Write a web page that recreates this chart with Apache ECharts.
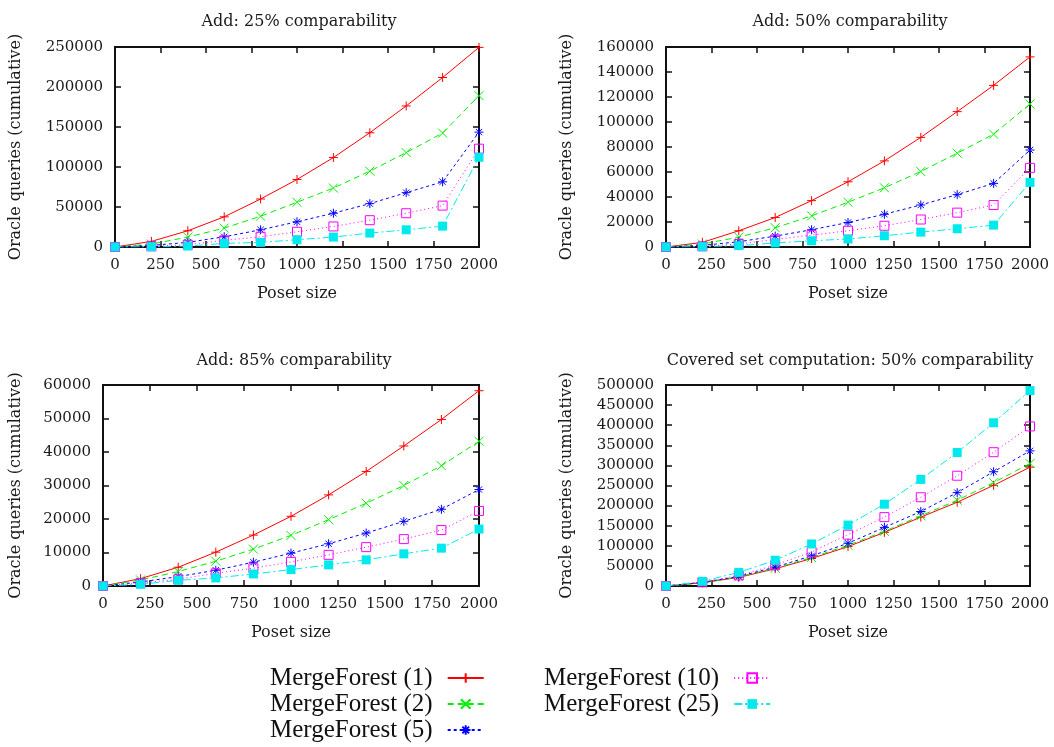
<!DOCTYPE html>
<html>
<head>
<meta charset="utf-8">
<script src="https://cdn.jsdelivr.net/npm/echarts@6/dist/echarts.min.js"></script>
<style>
  html, body { margin: 0; padding: 0; background: #ffffff; }
  #chart { width: 1054px; height: 747px; }
</style>
</head>
<body>
<div id="chart"></div>
<script>
// Poset sizes along the x axis
const posetSizes = [0, 200, 400, 600, 800, 1000, 1200, 1400, 1600, 1800, 2000];
const xTicks = { min: 0, max: 2000, interval: 250 };

const seriesNames = ['MergeForest (1)', 'MergeForest (2)', 'MergeForest (5)', 'MergeForest (10)', 'MergeForest (25)'];

// Add: 25% comparability
const add25_mf1  = [0, 7000, 20300, 37700, 60000, 84400, 111800, 142800, 176300, 211900, 249500];
const add25_mf2  = [0, 3700, 12400, 23600, 38500, 55900, 73700, 94800, 118000, 142400, 189200];
const add25_mf5  = [0, 2000, 5800, 12800, 21500, 31500, 42200, 54200, 67900, 81500, 143600];
const add25_mf10 = [0, 800, 2900, 8300, 12800, 19000, 25700, 33500, 42200, 51700, 122900];
const add25_mf25 = [0, 400, 1200, 4500, 5800, 9100, 12400, 17400, 21500, 26100, 112200];

// Add: 50% comparability
const add50_mf1  = [0, 3700, 13000, 23600, 37100, 52200, 68900, 87700, 108300, 129300, 152100];
const add50_mf2  = [0, 2400, 7900, 15400, 24900, 35800, 47400, 60400, 75000, 90300, 114400];
const add50_mf5  = [0, 1300, 4200, 8700, 13800, 19600, 26200, 33600, 41900, 50900, 77600];
const add50_mf10 = [0, 500, 2400, 6100, 9500, 13000, 17000, 22000, 27500, 33600, 63300];
const add50_mf25 = [0, 300, 1100, 3200, 5000, 6400, 9000, 11900, 14600, 17500, 51700];

// Add: 85% comparability
const add85_mf1  = [0, 2200, 5600, 10100, 15200, 20800, 27200, 34200, 41800, 49700, 58300];
const add85_mf2  = [0, 1800, 4300, 7400, 11000, 15100, 19800, 24700, 30000, 35900, 43200];
const add85_mf5  = [0, 1200, 2800, 4700, 7100, 9800, 12600, 15800, 19300, 22900, 28800];
const add85_mf10 = [0, 900, 2000, 3800, 5300, 7200, 9300, 11600, 14000, 16700, 22400];
const add85_mf25 = [0, 500, 1700, 2400, 3600, 4900, 6300, 7800, 9600, 11300, 17000];

// Covered set computation: 50% comparability
const cov50_mf1  = [0, 8200, 21400, 42800, 68400, 98000, 133400, 171300, 208400, 250400, 295700];
const cov50_mf2  = [0, 7400, 23100, 44500, 70800, 101300, 135900, 174600, 213300, 257000, 304800];
const cov50_mf5  = [0, 9100, 23900, 47000, 75000, 106300, 145800, 185300, 232300, 284200, 336100];
const cov50_mf10 = [0, 9100, 26400, 51900, 84800, 127700, 171300, 220800, 274300, 332800, 397000];
const cov50_mf25 = [0, 11500, 33800, 64200, 104600, 151600, 203500, 265200, 332000, 406100, 486000];

const panelTitles = ['Add: 25% comparability', 'Add: 50% comparability', 'Add: 85% comparability', 'Covered set computation: 50% comparability'];
const yMax = [250000, 160000, 60000, 500000];
const yStep = [50000, 20000, 10000, 50000];

const panelData = [
  [add25_mf1, add25_mf2, add25_mf5, add25_mf10, add25_mf25],
  [add50_mf1, add50_mf2, add50_mf5, add50_mf10, add50_mf25],
  [add85_mf1, add85_mf2, add85_mf5, add85_mf10, add85_mf25],
  [cov50_mf1, cov50_mf2, cov50_mf5, cov50_mf10, cov50_mf25]
];

// Layout of the four plot boxes
const gridBoxes = [
  { left: 115, top: 47, width: 364, height: 200 },
  { left: 666, top: 47, width: 364, height: 200 },
  { left: 103, top: 385, width: 376, height: 201 },
  { left: 666, top: 385, width: 364, height: 201 }
];
const titlePos = [
  { x: 294, y: 9 }, { x: 845, y: 9 }, { x: 289, y: 348 }, { x: 845, y: 348 }
];

// Point and line styles per MergeForest variant
const colors = ['#ff0000', '#00ee00', '#0000ff', '#ff00ff', '#00eaee'];
const dashes = ['solid', [6, 4], [3, 3], [1, 3], [8, 3, 2, 3]];
const symbols = [
  'path://M0,5L10,5M5,0L5,10',
  'path://M0,0L10,10M0,10L10,0',
  'path://M0,5L10,5M5,0L5,10M1.5,1.5L8.5,8.5M1.5,8.5L8.5,1.5',
  'rect',
  'rect'
];
const symbolSizes = [9, 9, 9, 9, 9];

const serifFont = 'DejaVu Serif';
const textColor = '#1a1a1a';
const plainNumber = function (v) { return String(v); };

// frame: every side of each plot box carries a line and inward ticks
function frameLine() { return { show: true, onZero: false, lineStyle: { color: '#111', width: 2 } }; }
function frameTicks() { return { show: true, inside: true, length: 6, lineStyle: { color: '#111', width: 1.5 } }; }

const grids = [], xAxes = [], yAxes = [], series = [], titles = [];
gridBoxes.forEach(function (g, i) {
  grids.push({ left: g.left, top: g.top, width: g.width, height: g.height,
    outerBoundsMode: 'none', show: true, borderColor: '#111', borderWidth: 2 });
  titles.push({
    text: panelTitles[i], left: titlePos[i].x, top: titlePos[i].y, textAlign: 'center',
    textStyle: { fontFamily: serifFont, fontSize: 16, fontWeight: 'normal', color: textColor }
  });
  xAxes.push({
    type: 'value', gridIndex: i, min: xTicks.min, max: xTicks.max, interval: xTicks.interval,
    position: 'bottom',
    name: 'Poset size', nameLocation: 'middle', nameGap: 39,
    nameTextStyle: { fontFamily: serifFont, fontSize: 16, color: textColor },
    axisLine: frameLine(), axisTick: frameTicks(), splitLine: { show: false },
    axisLabel: { fontFamily: serifFont, fontSize: 15, color: textColor, margin: 11, formatter: plainNumber }
  });
  xAxes.push({
    type: 'value', gridIndex: i, min: xTicks.min, max: xTicks.max, interval: xTicks.interval,
    position: 'top', axisLine: frameLine(), axisTick: frameTicks(),
    splitLine: { show: false }, axisLabel: { show: false }
  });
  yAxes.push({
    type: 'value', gridIndex: i, min: 0, max: yMax[i], interval: yStep[i], position: 'left',
    name: 'Oracle queries (cumulative)', nameLocation: 'middle', nameGap: (i === 2 ? 79 : 91),
    nameTextStyle: { fontFamily: serifFont, fontSize: 16, color: textColor },
    axisLine: frameLine(), axisTick: frameTicks(), splitLine: { show: false },
    axisLabel: { fontFamily: serifFont, fontSize: 15, color: textColor, margin: 12, formatter: plainNumber }
  });
  yAxes.push({
    type: 'value', gridIndex: i, min: 0, max: yMax[i], interval: yStep[i], position: 'right',
    axisLine: frameLine(), axisTick: frameTicks(), splitLine: { show: false }, axisLabel: { show: false }
  });

  panelData[i].forEach(function (vals, k) {
    const filled = (k === 4);
    series.push({
      name: seriesNames[k], type: 'line', xAxisIndex: 2 * i, yAxisIndex: 2 * i,
      data: posetSizes.map(function (x, j) { return [x, vals[j]]; }),
      symbol: symbols[k], symbolSize: symbolSizes[k], showAllSymbol: true,
      lineStyle: { color: colors[k], width: 1, type: dashes[k] },
      itemStyle: filled
        ? { color: colors[k], borderWidth: 0 }
        : { color: 'rgba(0,0,0,0)', borderColor: colors[k], borderWidth: 1 },
      emphasis: { disabled: true },
      z: 2 + k
    });
  });
});

const legendText = { fontFamily: 'Liberation Serif', fontSize: 25, lineHeight: 26, color: '#111', padding: [0, 10, 0, 0] };
const chart = echarts.init(document.getElementById('chart'));
chart.setOption({
  animation: false,
  title: titles,
  grid: grids,
  xAxis: xAxes,
  yAxis: yAxes,
  legend: [
    { data: seriesNames.slice(0, 3), orient: 'vertical', left: 270, top: 665, height: 82, padding: 0, align: 'right',
      itemWidth: 36, itemHeight: 12, itemGap: 0, selectedMode: false, textStyle: legendText },
    { data: seriesNames.slice(3), orient: 'vertical', left: 544, top: 665, height: 82, padding: 0, align: 'right',
      itemWidth: 36, itemHeight: 12, itemGap: 0, selectedMode: false, textStyle: legendText }
  ],
  series: series
});
</script>
</body>
</html>
